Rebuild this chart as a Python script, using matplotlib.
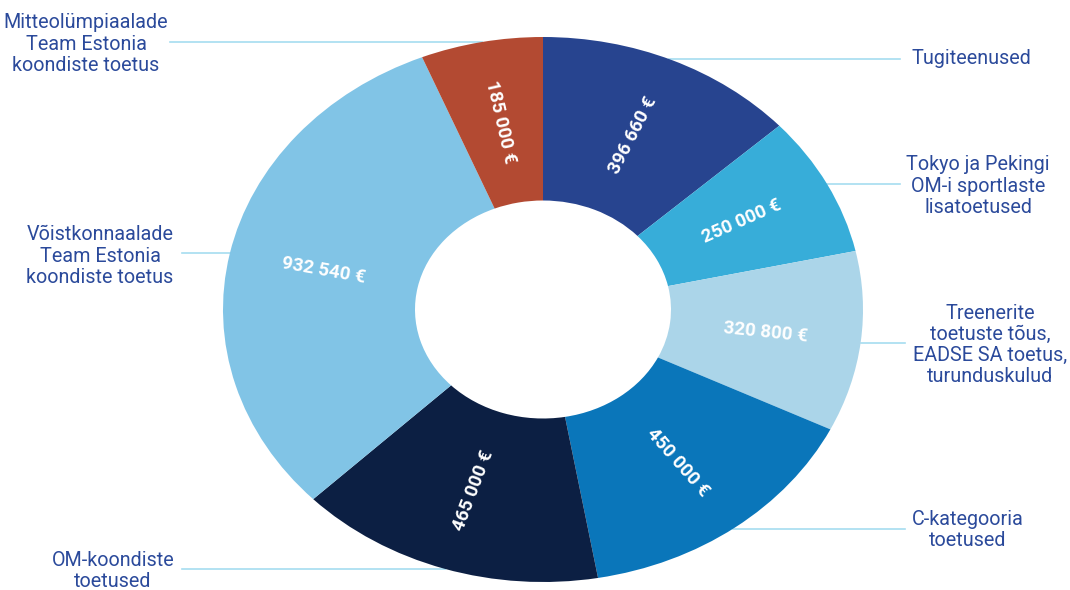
import numpy as np
import matplotlib.pyplot as plt

plt.rcParams['font.family'] = ['Roboto', 'DejaVu Sans']

categories = ['Tugiteenused',
              'Tokyo ja Pekingi\nOM-i sportlaste\nlisatoetused',
              'Treenerite\ntoetuste tõus,\nEADSE SA toetus,\nturunduskulud',
              'C-kategooria\ntoetused',
              'OM-koondiste\ntoetused',
              'Võistkonnaalade\nTeam Estonia\nkoondiste toetus',
              'Mitteolümpiaalade\nTeam Estonia\nkoondiste toetus']
values = [396660, 250000, 320800, 450000, 465000, 932540, 185000]
value_labels = ['396 660 €', '250 000 €', '320 800 €', '450 000 €',
                '465 000 €', '932 540 €', '185 000 €']
colors = ['#27448F', '#37ADD9', '#ABD5E9', '#0A76BA', '#0C1F43', '#81C4E6', '#B34A32']

W, H = 1070, 590
cx, cy, rx, ry = 543, 309.5, 320, 272.5

fig = plt.figure(figsize=(W / 100, H / 100), dpi=100)

# background axes in pixel coords for leader lines
bg = fig.add_axes([0, 0, 1, 1], zorder=0)
bg.set_xlim(0, W)
bg.set_ylim(H, 0)
bg.axis('off')

ax = fig.add_axes([(cx - rx) / W, (H - cy - ry) / H, 2 * rx / W, 2 * ry / H], zorder=1)
ax.patch.set_alpha(0)
wedges, _ = ax.pie(values, colors=colors, startangle=90, counterclock=False,
                   radius=1, wedgeprops=dict(width=0.6, linewidth=0))
ax.set_aspect('auto')
ax.set_xlim(-1, 1)
ax.set_ylim(-1, 1)
ax.axis('off')

# value labels, rotated along the radius
for w, lab in zip(wedges, value_labels):
    a = np.deg2rad((w.theta1 + w.theta2) / 2)
    x, y = 0.7 * np.cos(a), 0.7 * np.sin(a)
    rot = np.rad2deg(np.arctan2(np.sin(a) * ry, np.cos(a) * rx))
    if rot > 90:
        rot -= 180
    elif rot < -90:
        rot += 180
    ax.text(x, y, lab, rotation=rot, rotation_mode='anchor', ha='center', va='center',
            color='white', fontsize=13.5, fontweight='bold')

# outside labels: (text x, text y, line y, line end x, side)
label_pos = [(912, 59, 59, 900, 'left'),
             (978, 186, 184, 900, 'center'),
             (990, 345, 343, 905, 'center'),
             (968, 530, 529, 905, 'center'),
             (113, 571, 569, 182, 'center'),
             (100, 256, 253, 182, 'center'),
             (86, 44, 42, 170, 'center')]

for name, (tx, ty, ly, lx, ha) in zip(categories, label_pos):
    fig.text(tx / W, 1 - ty / H, name, ha=ha, va='center', ma='center',
             color='#2B4A9B', fontsize=14.2, linespacing=1.15)
    yu = (cy - ly) / ry
    ex = cx + np.sign(lx - cx) * rx * np.sqrt(max(0.0, 1 - yu ** 2))
    bg.plot([lx, ex], [ly, ly], color='#A6DDF0', linewidth=1.2)

fig.savefig('out.png', dpi=100)
